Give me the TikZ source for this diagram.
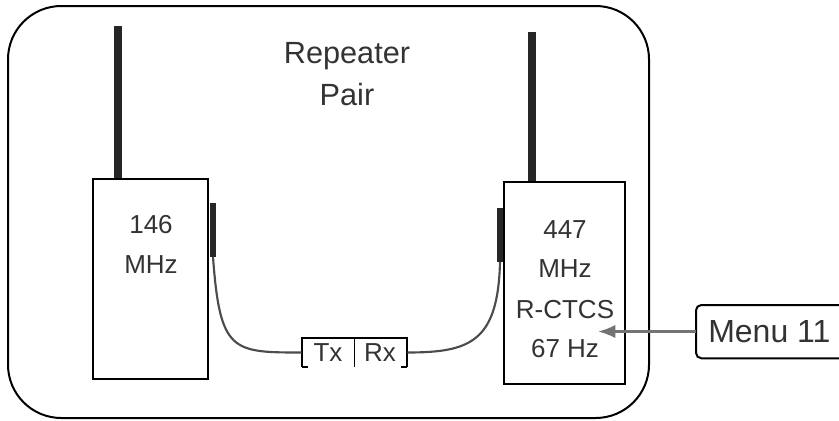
\documentclass[tikz,border=0pt]{standalone}
\usepackage{fontspec}
\setmainfont{Liberation Sans}
\usetikzlibrary{arrows.meta}
\begin{document}
\begin{tikzpicture}[x=0.75pt,y=-0.75pt,
  radio/.style={draw=black,line width=1.5pt,fill=white,inner sep=0pt},
  lbl/.style={font=\fontsize{19.5}{22}\selectfont,text=black!80,inner sep=0pt,anchor=base},
  title/.style={font=\fontsize{23}{26}\selectfont,text=black!80,inner sep=0pt,anchor=base},
  ant/.style={line width=6.5pt,black!85},
  stub/.style={line width=5pt,black!85},
  cable/.style={line width=1.6pt,black!70},
  frameline/.style={line width=1.4pt,black},
  pointer/.style={line width=1.8pt,black!55,-{Latex[length=13pt,width=10pt]}},
]
\useasboundingbox (0,0) rectangle (839,421);
\clip (0,0) rectangle (839,421);

% outer rounded frame
\draw[line width=1.5pt, rounded corners=40pt] (8,6) rectangle (649,418);

% title
\node[title] (rep) at (347,63) {Repeater};
\node[title] (pair) at (347,105) {Pair};

% radios
\node[radio, minimum width=86.25pt, minimum height=150pt] (lbox) at (150.5,279) {};
\node[radio, minimum width=90.75pt, minimum height=151.5pt] (rbox) at (564.5,283) {};

% antennas
\coordinate (lant) at (118,26);
\coordinate (rant) at (532,32);
\draw[ant] (lant) -- (lant |- lbox.north);
\draw[ant] (rant) -- (rant |- rbox.north);

% connector stubs
\coordinate (lstubtop) at (213,203);
\coordinate (lstubbot) at (213,257);
\coordinate (rstubtop) at (500,208);
\coordinate (rstubbot) at (500,262);
\draw[stub] (lstubtop) -- (lstubbot);
\draw[stub] (rstubtop) -- (rstubbot);

% radio labels
\node[lbl] (l1) at (151,233) {146};
\node[lbl] (l2) at (151,273) {MHz};
\node[lbl] (r1) at (565,238) {447};
\node[lbl] (r2) at (565,277) {MHz};
\node[lbl] (r3) at (565,318) {R-CTCS};
\node[lbl] (r4) at (565,357) {67 Hz};

% Tx / Rx adapter
\node[minimum width=78.75pt, minimum height=21.75pt, inner sep=0pt] (frame) at (354.5,352.5) {};
\node[lbl] (tx) at (328,361) {Tx};
\node[lbl] (rx) at (380,361) {Rx};
\draw[frameline] (frame.south west) -- (frame.north west) -- (frame.north east) -- (frame.south east);
\draw[frameline] (frame.north) -- (frame.south);
\draw[frameline] (frame.south west) -- ++(6,0);
\draw[frameline] (frame.south east) -- ++(-6,0);

% cables
\draw[cable] (lstubbot) .. controls (220,352) and (232,352.5) .. (frame.west);
\draw[cable] (rstubbot) .. controls (498,342) and (470,352.5) .. (frame.east);

% Menu 11 callout
\node[font=\fontsize{24}{26}\selectfont, text=black!80, anchor=west, inner xsep=9pt, inner ysep=0pt, minimum height=39.75pt] (menu) at (696,331.5) {Menu 11};
\coordinate (menuend) at (880,305);
\draw[line width=1.5pt, rounded corners=4pt] (menu.south west) rectangle (menuend);
\coordinate (tip) at (598,331.5);
\draw[pointer] (menu.west) -- (tip);
\end{tikzpicture}
\end{document}
